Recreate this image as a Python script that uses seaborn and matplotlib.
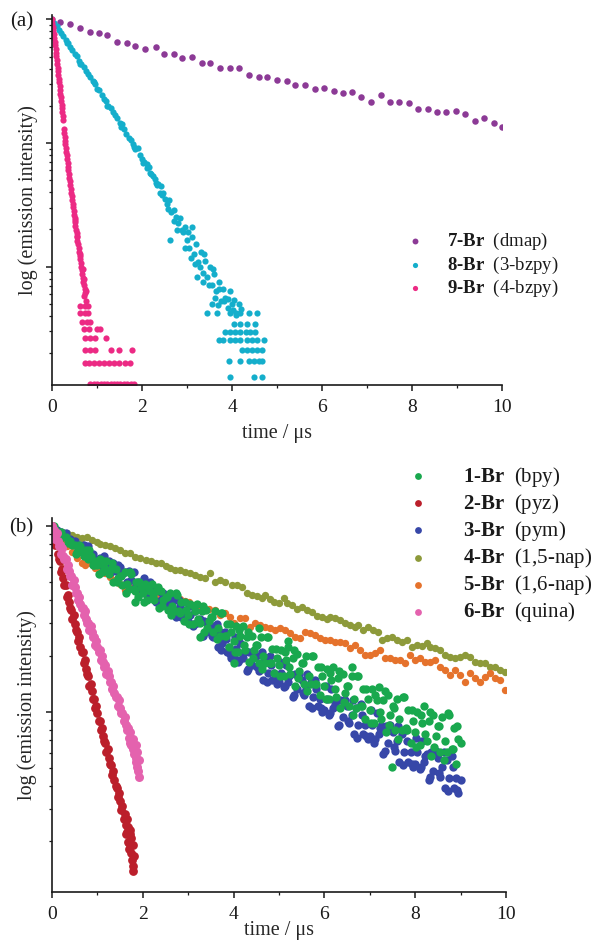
import matplotlib
matplotlib.use("Agg")
import matplotlib.pyplot as plt
import numpy as np
import pandas as pd
import seaborn as sns
from matplotlib.ticker import LogLocator, MultipleLocator, NullFormatter

# decay traces: time in us, "dec" = decades below the starting intensity

# ---------------- panel (a) ----------------
t_7br = [0.18, 0.41, 0.63, 0.85, 1.04, 1.22, 1.44, 1.67, 1.85, 2.07,
         2.30, 2.48, 2.70, 2.89, 3.11, 3.33, 3.52, 3.74, 3.96, 4.15,
         4.37, 4.59, 4.78, 5.00, 5.22, 5.41, 5.63, 5.84, 6.05, 6.26,
         6.47, 6.67, 6.87, 7.09, 7.30, 7.50, 7.72, 7.93, 8.13, 8.35,
         8.55, 8.76, 8.98, 9.18, 9.39, 9.61, 9.82, 10.0]
dec_7br = [0.019, 0.038, 0.073, 0.105, 0.113, 0.127, 0.186, 0.194, 0.213, 0.243,
           0.226, 0.283, 0.283, 0.310, 0.307, 0.350, 0.350, 0.391, 0.396, 0.396,
           0.450, 0.464, 0.464, 0.490, 0.496, 0.531, 0.531, 0.563, 0.558, 0.577,
           0.593, 0.585, 0.626, 0.666, 0.612, 0.666, 0.666, 0.679, 0.725, 0.725,
           0.747, 0.747, 0.742, 0.766, 0.820, 0.800, 0.841, 0.868]

t_8br_main = [0.00, 0.05, 0.10, 0.15, 0.20, 0.25, 0.30, 0.35, 0.40, 0.45,
              0.50, 0.55, 0.60, 0.65, 0.70, 0.75, 0.80, 0.85, 0.90, 0.95,
              1.00, 1.05, 1.10, 1.15, 1.20, 1.25, 1.30, 1.35, 1.40, 1.45,
              1.50, 1.55, 1.60, 1.65, 1.70, 1.75, 1.80, 1.85, 1.90, 1.95,
              2.00, 2.05, 2.10, 2.15, 2.20, 2.25, 2.30, 2.35, 2.40, 2.45,
              2.50, 2.55, 2.60, 2.65, 2.70, 2.75, 2.80, 2.85, 2.90, 2.95,
              3.00, 3.05, 3.10, 3.15, 3.20, 3.25, 3.30, 3.35, 3.40, 3.45,
              3.50, 3.55, 3.60, 3.65, 3.70, 3.75, 3.80, 3.85, 3.90, 3.95,
              4.00, 4.05, 4.10]
dec_8br_main = [0.000, 0.030, 0.050, 0.085, 0.110, 0.135, 0.165, 0.190, 0.220, 0.245,
                0.280, 0.300, 0.335, 0.360, 0.385, 0.420, 0.440, 0.470, 0.495, 0.525,
                0.560, 0.575, 0.610, 0.640, 0.660, 0.700, 0.715, 0.750, 0.775, 0.800,
                0.840, 0.850, 0.890, 0.930, 0.960, 0.975, 1.010, 1.050, 1.040, 1.100,
                1.130, 1.150, 1.200, 1.190, 1.250, 1.270, 1.320, 1.330, 1.400, 1.420,
                1.450, 1.490, 1.460, 1.560, 1.540, 1.600, 1.650, 1.610, 1.720, 1.680,
                1.780, 1.850, 1.760, 1.900, 1.820, 1.960, 1.880, 2.050, 1.950, 2.080,
                2.000, 2.150, 2.060, 2.200, 2.120, 2.280, 2.180, 2.250, 2.330, 2.200,
                2.300, 2.270, 2.390]
t_8br_extra = [2.12, 2.28, 2.42, 2.58, 2.72, 2.88, 3.02, 3.08, 3.18, 3.28,
               3.38, 3.48, 3.58, 3.62, 3.72, 3.82, 3.92, 4.02, 4.15, 4.20,
               3.22, 2.95, 3.55, 2.78, 3.12, 2.63, 3.35, 3.68,
               0.325, 0.625, 0.925, 1.225, 1.525, 1.825, 2.025, 2.175, 2.325, 2.475]
dec_8br_extra = [1.17, 1.29, 1.35, 1.53, 1.63, 1.70, 1.72, 1.93, 1.98, 2.00,
                 1.90, 2.15, 2.02, 2.25, 2.18, 2.28, 2.26, 2.35, 2.30, 2.34,
                 2.08, 1.85, 2.30, 1.70, 1.68, 1.78, 2.12, 2.31,
                 0.19, 0.36, 0.51, 0.70, 0.87, 1.03, 1.16, 1.24, 1.34, 1.40]
# low-count tail sits on a few discrete levels
t_8br_tail = [3.44, 3.67, 3.96, 4.10, 4.18, 4.37, 4.56,
              4.04, 4.18, 4.33, 4.52,
              3.85, 3.96, 4.07, 4.18, 4.30, 4.41, 4.52,
              3.70, 3.81, 3.96, 4.07, 4.18, 4.33, 4.44, 4.56, 4.70,
              4.22, 4.33, 4.44, 4.56, 4.67,
              3.93, 4.18, 4.37, 4.48, 4.59, 4.67,
              3.96, 4.48, 4.67]
dec_8br_tail = [2.37, 2.37, 2.37, 2.37, 2.37, 2.37, 2.37,
                2.46, 2.46, 2.46, 2.46,
                2.53, 2.53, 2.53, 2.53, 2.53, 2.53, 2.53,
                2.59, 2.59, 2.59, 2.59, 2.59, 2.59, 2.59, 2.59, 2.59,
                2.67, 2.67, 2.67, 2.67, 2.67,
                2.76, 2.76, 2.76, 2.76, 2.76, 2.76,
                2.89, 2.89, 2.89]

t_9br_main = [0.000, 0.010, 0.020, 0.028, 0.040, 0.048, 0.060, 0.066, 0.078, 0.085,
              0.095, 0.106, 0.112, 0.124, 0.130, 0.142, 0.150, 0.158, 0.170, 0.176,
              0.188, 0.195, 0.204, 0.212, 0.222, 0.228, 0.240, 0.246,
              0.262, 0.272, 0.280, 0.290, 0.296, 0.308, 0.315, 0.326, 0.332, 0.345,
              0.352, 0.364, 0.372, 0.384, 0.392, 0.404, 0.412, 0.425, 0.436, 0.446,
              0.458, 0.468, 0.478, 0.492, 0.500, 0.515, 0.522, 0.538, 0.545, 0.560,
              0.565, 0.582, 0.590, 0.604, 0.612, 0.628, 0.636, 0.650, 0.662, 0.672,
              0.690, 0.698, 0.716, 0.730, 0.742,
              0.520, 0.545, 0.630, 0.680, 0.720, 0.760, 0.720, 0.760]
dec_9br_main = [0.00, 0.03, 0.06, 0.09, 0.12, 0.15, 0.18, 0.21, 0.24, 0.27,
                0.30, 0.33, 0.36, 0.39, 0.42, 0.45, 0.48, 0.51, 0.54, 0.57,
                0.60, 0.63, 0.66, 0.69, 0.72, 0.75, 0.78, 0.81,
                0.89, 0.92, 0.95, 0.98, 1.01, 1.04, 1.07, 1.10, 1.13, 1.16,
                1.19, 1.22, 1.25, 1.28, 1.31, 1.34, 1.37, 1.40, 1.43, 1.46,
                1.49, 1.52, 1.55, 1.58, 1.61, 1.64, 1.67, 1.70, 1.73, 1.76,
                1.79, 1.82, 1.85, 1.88, 1.91, 1.94, 1.97, 2.00, 2.03, 2.06,
                2.09, 2.12, 2.15, 2.18, 2.21,
                1.62, 1.75, 1.90, 2.02, 2.10, 2.20, 2.24, 2.28]
t_9br_tail = [0.63, 0.74, 0.81,
              0.63, 0.74, 0.81,
              0.67, 0.78, 0.85,
              0.70, 0.82, 1.00, 1.07,
              0.74, 0.85, 0.96, 1.19,
              0.74, 0.85, 0.96, 1.30, 1.48, 1.78,
              0.74, 0.82, 0.93, 1.04, 1.15, 1.26, 1.37, 1.48, 1.63, 1.74,
              0.85, 0.93, 1.00, 1.08, 1.15, 1.22, 1.30, 1.37, 1.45, 1.52, 1.60, 1.67, 1.75, 1.82]
dec_9br_tail = [2.315, 2.315, 2.315,
                2.37, 2.37, 2.37,
                2.445, 2.445, 2.445,
                2.50, 2.50, 2.50, 2.50,
                2.58, 2.58, 2.58, 2.58,
                2.67, 2.67, 2.67, 2.67, 2.67, 2.67,
                2.78, 2.78, 2.78, 2.78, 2.78, 2.78, 2.78, 2.78, 2.78, 2.78,
                2.948, 2.948, 2.948, 2.948, 2.948, 2.948, 2.948, 2.948, 2.948, 2.948, 2.948, 2.948, 2.948, 2.948]

# ---------------- panel (b) ----------------
t_step = [0.00, 0.05, 0.10, 0.15, 0.20, 0.25, 0.30, 0.35, 0.40, 0.45,
          0.50, 0.55, 0.60, 0.65, 0.70, 0.75, 0.80, 0.85, 0.90, 0.95,
          1.00, 1.05, 1.10, 1.15, 1.20, 1.25, 1.30, 1.35, 1.40, 1.45,
          1.50, 1.55, 1.60, 1.65, 1.70, 1.75, 1.80, 1.85, 1.90, 1.95,
          2.00, 2.05, 2.10, 2.15, 2.20, 2.25, 2.30, 2.35, 2.40, 2.45,
          2.50, 2.55, 2.60, 2.65, 2.70, 2.75, 2.80, 2.85, 2.90, 2.95,
          3.00, 3.05, 3.10, 3.15, 3.20, 3.25, 3.30, 3.35, 3.40, 3.45,
          3.50, 3.55, 3.60, 3.65, 3.70, 3.75, 3.80, 3.85, 3.90, 3.95,
          4.00, 4.05, 4.10, 4.15, 4.20, 4.25, 4.30, 4.35, 4.40, 4.45,
          4.50, 4.55, 4.60, 4.65, 4.70, 4.75, 4.80, 4.85, 4.90, 4.95,
          5.00, 5.05, 5.10, 5.15, 5.20, 5.25, 5.30, 5.35, 5.40, 5.45,
          5.50, 5.55, 5.60, 5.65, 5.70, 5.75, 5.80, 5.85, 5.90, 5.95,
          6.00, 6.05, 6.10, 6.15, 6.20, 6.25, 6.30, 6.35, 6.40, 6.45,
          6.50, 6.55, 6.60, 6.65, 6.70, 6.75, 6.80, 6.85, 6.90, 6.95,
          7.00, 7.05, 7.10, 7.15, 7.20, 7.25, 7.30, 7.35, 7.40, 7.45,
          7.50, 7.55, 7.60, 7.65, 7.70, 7.75, 7.80, 7.85, 7.90, 7.95,
          8.00, 8.05, 8.10, 8.15, 8.20, 8.25, 8.30, 8.35, 8.40, 8.45,
          8.50, 8.55, 8.60, 8.65, 8.70, 8.75, 8.80, 8.85, 8.90, 8.95,
          9.00]
t_half = [2.025, 2.125, 2.225, 2.325, 2.425, 2.525, 2.625, 2.725, 2.825, 2.925,
          3.025, 3.125, 3.225, 3.325, 3.425, 3.525, 3.625, 3.725, 3.825, 3.925,
          4.025, 4.125, 4.225, 4.325, 4.425, 4.525, 4.625, 4.725, 4.825, 4.925,
          5.025, 5.125, 5.225, 5.325, 5.425, 5.525, 5.625, 5.725, 5.825, 5.925,
          6.025, 6.125, 6.225, 6.325, 6.425, 6.525, 6.625, 6.725, 6.825, 6.925,
          7.025, 7.125, 7.225, 7.325, 7.425, 7.525, 7.625, 7.725, 7.825, 7.925,
          8.025, 8.125, 8.225, 8.325, 8.425, 8.525, 8.625, 8.725, 8.825, 8.925]

dec_1br_main = [0.00, 0.00, 0.03, 0.03, 0.03, 0.06, 0.06, 0.09, 0.08, 0.10,
                0.10, 0.14, 0.10, 0.14, 0.16, 0.13, 0.18, 0.16, 0.21, 0.19,
                0.21, 0.18, 0.25, 0.22, 0.19, 0.26, 0.23, 0.30, 0.23, 0.28,
                0.27, 0.32, 0.25, 0.31, 0.34, 0.26, 0.34, 0.30, 0.38, 0.33,
                0.36, 0.31, 0.40, 0.35, 0.31, 0.40, 0.35, 0.44, 0.35, 0.40,
                0.38, 0.45, 0.36, 0.43, 0.46, 0.37, 0.46, 0.41, 0.51, 0.45,
                0.48, 0.42, 0.53, 0.46, 0.42, 0.52, 0.46, 0.57, 0.45, 0.51,
                0.49, 0.57, 0.46, 0.55, 0.59, 0.47, 0.59, 0.53, 0.65, 0.57,
                0.62, 0.54, 0.68, 0.59, 0.54, 0.67, 0.60, 0.73, 0.59, 0.67,
                0.64, 0.74, 0.60, 0.70, 0.74, 0.60, 0.74, 0.66, 0.79, 0.71,
                0.75, 0.67, 0.81, 0.72, 0.65, 0.80, 0.71, 0.86, 0.69, 0.78,
                0.74, 0.85, 0.70, 0.81, 0.85, 0.70, 0.85, 0.76, 0.91, 0.81,
                0.86, 0.77, 0.93, 0.83, 0.76, 0.92, 0.82, 0.98, 0.80, 0.90,
                0.86, 0.97, 0.81, 0.93, 0.98, 0.81, 0.97, 0.88, 1.04, 0.93,
                0.99, 0.88, 1.06, 0.94, 0.87, 1.04, 0.94, 1.11, 0.91, 1.02,
                0.97, 1.10, 0.93, 1.04, 1.10, 0.92, 1.09, 0.99, 1.17, 1.05,
                1.11, 1.00, 1.18, 1.06, 0.97, 1.16, 1.05, 1.24, 1.02, 1.13,
                1.08, 1.22, 1.03, 1.16, 1.22, 1.02, 1.20, 1.09, 1.28, 1.15,
                1.17]
dec_1br_half = [0.41, 0.33, 0.38, 0.33, 0.43, 0.38, 0.48, 0.36, 0.47, 0.41,
                0.53, 0.43, 0.50, 0.43, 0.55, 0.49, 0.61, 0.47, 0.59, 0.53,
                0.68, 0.56, 0.64, 0.57, 0.71, 0.64, 0.77, 0.60, 0.74, 0.66,
                0.81, 0.68, 0.76, 0.67, 0.82, 0.74, 0.89, 0.70, 0.85, 0.76,
                0.93, 0.79, 0.88, 0.78, 0.95, 0.86, 1.02, 0.81, 0.97, 0.88,
                1.06, 0.91, 1.00, 0.89, 1.07, 0.98, 1.15, 0.92, 1.10, 0.99,
                1.19, 1.02, 1.12, 1.00, 1.19, 1.08, 1.26, 1.01, 1.20, 1.08]
t_1br_early = [0.525, 0.625, 0.725, 0.825, 0.925, 1.025, 1.125, 1.225, 1.325, 1.425,
               1.525, 1.625, 1.725, 1.825, 1.925, 1.83, 3.27, 4.00, 7.49, 4.55, 5.20, 6.60]
dec_1br_early = [0.15, 0.11, 0.16, 0.13, 0.21, 0.26, 0.19, 0.25, 0.20, 0.30,
                 0.27, 0.36, 0.25, 0.35, 0.30, 0.41, 0.60, 0.74, 1.30, 0.55, 0.62, 0.76]

dec_3br_main = [0.00, 0.01, 0.02, 0.04, 0.03, 0.05, 0.04, 0.07, 0.07, 0.09,
                0.08, 0.11, 0.10, 0.14, 0.10, 0.14, 0.11, 0.16, 0.15, 0.18,
                0.19, 0.17, 0.21, 0.16, 0.20, 0.19, 0.25, 0.20, 0.24, 0.21,
                0.22, 0.26, 0.25, 0.30, 0.24, 0.29, 0.25, 0.32, 0.30, 0.34,
                0.34, 0.32, 0.37, 0.30, 0.36, 0.34, 0.41, 0.35, 0.40, 0.36,
                0.38, 0.43, 0.41, 0.47, 0.40, 0.45, 0.40, 0.49, 0.46, 0.51,
                0.51, 0.48, 0.54, 0.46, 0.52, 0.50, 0.59, 0.51, 0.57, 0.52,
                0.54, 0.60, 0.58, 0.65, 0.57, 0.63, 0.57, 0.68, 0.65, 0.71,
                0.71, 0.66, 0.73, 0.63, 0.71, 0.68, 0.78, 0.68, 0.75, 0.68,
                0.70, 0.78, 0.74, 0.83, 0.71, 0.79, 0.70, 0.83, 0.79, 0.85,
                0.84, 0.79, 0.87, 0.75, 0.84, 0.80, 0.92, 0.80, 0.88, 0.80,
                0.83, 0.91, 0.88, 0.97, 0.84, 0.92, 0.83, 0.97, 0.93, 1.00,
                0.99, 0.93, 1.02, 0.88, 0.98, 0.94, 1.08, 0.94, 1.03, 0.94,
                0.97, 1.06, 1.02, 1.12, 0.98, 1.07, 0.96, 1.12, 1.07, 1.15,
                1.13, 1.07, 1.17, 1.01, 1.12, 1.08, 1.23, 1.08, 1.17, 1.07,
                1.11, 1.21, 1.16, 1.27, 1.12, 1.22, 1.10, 1.27, 1.22, 1.30,
                1.28, 1.22, 1.31, 1.16, 1.27, 1.23, 1.37, 1.22, 1.32, 1.21,
                1.25, 1.35, 1.30, 1.41, 1.26, 1.36, 1.24, 1.41, 1.36, 1.44,
                1.37]
dec_3br_half = [0.28, 0.37, 0.35, 0.41, 0.36, 0.42, 0.37, 0.49, 0.43, 0.50,
                0.43, 0.53, 0.51, 0.59, 0.52, 0.59, 0.53, 0.67, 0.61, 0.69,
                0.60, 0.72, 0.68, 0.77, 0.68, 0.76, 0.68, 0.84, 0.75, 0.83,
                0.73, 0.86, 0.81, 0.91, 0.81, 0.90, 0.80, 0.98, 0.88, 0.98,
                0.86, 1.01, 0.96, 1.07, 0.95, 1.05, 0.94, 1.14, 1.02, 1.13,
                0.99, 1.15, 1.09, 1.21, 1.09, 1.19, 1.08, 1.29, 1.16, 1.28,
                1.14, 1.30, 1.24, 1.35, 1.23, 1.33, 1.22, 1.43, 1.30, 1.42]

t_fast = [0.000, 0.025, 0.050, 0.075, 0.100, 0.125, 0.150, 0.175, 0.200, 0.225,
          0.250, 0.275, 0.300, 0.325, 0.350, 0.375, 0.400, 0.425, 0.450, 0.475,
          0.500, 0.525, 0.550, 0.575, 0.600, 0.625, 0.650, 0.675, 0.700, 0.725,
          0.750, 0.775, 0.800, 0.825, 0.850, 0.875, 0.900, 0.925, 0.950, 0.975,
          1.000, 1.025, 1.050, 1.075, 1.100, 1.125, 1.150, 1.175, 1.200, 1.225,
          1.250, 1.275, 1.300, 1.325, 1.350, 1.375, 1.400, 1.425, 1.450, 1.475,
          1.500, 1.525, 1.550, 1.575, 1.600, 1.625, 1.650, 1.675, 1.700, 1.725,
          1.750, 1.775, 1.800, 1.825, 1.850, 1.875, 1.900]

t_2br_end = [1.78, 1.76, 1.72, 1.68, 1.74, 1.80, 1.66, 1.62, 1.70, 1.79]
dec_2br = [0.00, 0.04, 0.05, 0.10, 0.09, 0.15, 0.18, 0.19, 0.25, 0.23,
           0.28, 0.32, 0.32, 0.38, 0.37, 0.41, 0.44, 0.45, 0.50, 0.48,
           0.53, 0.56, 0.57, 0.62, 0.60, 0.65, 0.68, 0.68, 0.74, 0.72,
           0.77, 0.80, 0.81, 0.86, 0.85, 0.89, 0.93, 0.93, 0.98, 0.97,
           1.01, 1.05, 1.05, 1.10, 1.09, 1.13, 1.16, 1.17, 1.22, 1.20,
           1.25, 1.28, 1.29, 1.34, 1.32, 1.37, 1.40, 1.41, 1.46, 1.44,
           1.48, 1.53, 1.51, 1.58, 1.55, 1.61, 1.65, 1.62, 1.71, 1.66,
           1.76, 1.72]
dec_2br_end = [1.83, 1.80, 1.64, 1.70, 1.68, 1.78, 1.58, 1.66, 1.74, 1.86]

t_6br_end = [1.88, 1.86, 1.91, 1.84, 1.78, 1.72, 1.92]
dec_6br = [0.00, 0.03, 0.02, 0.07, 0.04, 0.08, 0.11, 0.10, 0.15, 0.12,
           0.16, 0.18, 0.18, 0.23, 0.21, 0.24, 0.27, 0.27, 0.32, 0.29,
           0.33, 0.36, 0.36, 0.40, 0.38, 0.42, 0.44, 0.44, 0.48, 0.46,
           0.50, 0.52, 0.52, 0.56, 0.54, 0.57, 0.60, 0.60, 0.64, 0.62,
           0.65, 0.68, 0.67, 0.72, 0.70, 0.73, 0.76, 0.75, 0.80, 0.78,
           0.81, 0.84, 0.84, 0.88, 0.86, 0.90, 0.92, 0.92, 0.97, 0.94,
           0.98, 1.01, 1.01, 1.05, 1.03, 1.07, 1.10, 1.09, 1.14, 1.11,
           1.18, 1.15, 1.23, 1.18, 1.27, 1.22, 1.32]
dec_6br_end = [1.30, 1.18, 1.26, 1.25, 1.20, 1.17, 1.35]

t_4br = [0.00, 0.11, 0.22, 0.33, 0.44, 0.55, 0.66, 0.77, 0.88, 0.99,
         1.06, 1.17, 1.28, 1.39, 1.50, 1.61, 1.72, 1.83, 1.94, 2.06,
         2.17, 2.28, 2.39, 2.50, 2.61, 2.72, 2.83, 2.94, 3.05, 3.16,
         3.27, 3.38, 3.49, 3.60, 3.71, 3.82,
         3.96, 4.07, 4.18, 4.29, 4.40, 4.51, 4.62, 4.70, 4.80, 4.90,
         4.99, 5.10, 5.18, 5.29, 5.40, 5.51, 5.62, 5.73, 5.84, 5.95,
         6.06, 6.13, 6.24, 6.35, 6.46, 6.57, 6.68, 6.75, 6.86, 6.97,
         7.08, 7.19, 7.27, 7.38, 7.49, 7.60, 7.71, 7.82, 7.93, 8.04,
         8.15, 8.26, 8.33, 8.44, 8.55, 8.66, 8.77, 8.88, 8.99, 9.10,
         9.21, 9.32, 9.43, 9.54, 9.65, 9.76, 9.87, 9.98]
dec_4br = [0.004, 0.022, 0.031, 0.040, 0.049, 0.058, 0.067, 0.062, 0.076, 0.085,
           0.098, 0.102, 0.106, 0.120, 0.129, 0.145, 0.147, 0.165, 0.174, 0.183,
           0.190, 0.201, 0.201, 0.215, 0.228, 0.237, 0.237, 0.246, 0.255, 0.264,
           0.273, 0.282, 0.255, 0.300, 0.291, 0.300,
           0.318, 0.318, 0.327, 0.363, 0.372, 0.377, 0.389, 0.372, 0.395, 0.407,
           0.413, 0.389, 0.416, 0.425, 0.449, 0.434, 0.452, 0.461, 0.485, 0.492,
           0.502, 0.488, 0.497, 0.506, 0.524, 0.533, 0.542, 0.533, 0.560, 0.542,
           0.560, 0.569, 0.614, 0.605, 0.596, 0.614, 0.623, 0.614, 0.650, 0.641,
           0.646, 0.632, 0.650, 0.659, 0.668, 0.695, 0.704, 0.712, 0.704, 0.695,
           0.704, 0.730, 0.739, 0.739, 0.757, 0.757, 0.775, 0.784]

t_5br = [0.00, 0.11, 0.22, 0.33, 0.44, 0.55, 0.66, 0.73, 0.84, 0.95,
         1.06, 1.17, 1.28, 1.39, 1.50, 1.61, 1.72, 1.83, 1.94, 2.05,
         2.16, 2.27, 2.38, 2.49, 2.60, 2.71, 2.82, 2.93, 3.01, 3.12,
         3.23, 3.34, 3.45, 3.60, 3.71, 3.82, 3.93,
         4.00, 4.15, 4.26, 4.37, 4.48, 4.59, 4.70, 4.81, 4.92, 5.03,
         5.14, 5.25, 5.36, 5.47, 5.58, 5.69, 5.80, 5.91, 6.02, 6.13,
         6.24, 6.35, 6.46, 6.57, 6.68, 6.79, 6.90, 7.01, 7.12, 7.23,
         7.34, 7.45, 7.56, 7.67, 7.78, 7.89, 8.00, 8.11, 8.22, 8.33,
         8.44, 8.55, 8.66, 8.77, 8.88, 8.99, 9.10, 9.21, 9.32, 9.43,
         9.54, 9.65, 9.76, 9.87, 9.98]
dec_5br = [0.000, 0.040, 0.075, 0.110, 0.140, 0.170, 0.200, 0.210, 0.200, 0.225,
           0.240, 0.255, 0.275, 0.290, 0.310, 0.345, 0.330, 0.345, 0.350, 0.360,
           0.365, 0.370, 0.380, 0.385, 0.390, 0.400, 0.395, 0.405, 0.408, 0.426,
           0.430, 0.440, 0.445, 0.453, 0.480, 0.470, 0.490,
           0.524, 0.497, 0.497, 0.542, 0.524, 0.533, 0.542, 0.551, 0.560, 0.551,
           0.560, 0.578, 0.596, 0.605, 0.569, 0.578, 0.587, 0.605, 0.614, 0.614,
           0.623, 0.623, 0.632, 0.659, 0.641, 0.668, 0.695, 0.695, 0.686, 0.668,
           0.713, 0.713, 0.722, 0.722, 0.739, 0.695, 0.722, 0.713, 0.730, 0.730,
           0.722, 0.757, 0.775, 0.802, 0.775, 0.802, 0.838, 0.793, 0.820, 0.838,
           0.811, 0.793, 0.820, 0.829, 0.883]

compounds_a = ["7", "8", "9"]
ligands_a = ["dmap", "3-bzpy", "4-bzpy"]
colors_a = ["#8c3a96", "#14aecb", "#ec2a84"]

compounds_b = ["1", "2", "3", "4", "5", "6"]
ligands_b = ["bpy", "pyz", "pym", "1,5-nap", "1,6-nap", "quina"]
colors_b = ["#19a84e", "#bb1f2b", "#3747a8", "#8d9a3a", "#e5722c", "#e462ae"]


def trace(t, dec):
    return pd.DataFrame({"time": np.asarray(t, dtype=float),
                         "intensity": 10.0 ** -np.asarray(dec, dtype=float)})


def label(num, lig):
    return "$\\mathbf{%s\u2010Br}$  (%s)" % (num, lig)


sns.set_theme(style="ticks")
plt.rcParams["font.family"] = ["Liberation Serif", "DejaVu Serif"]
plt.rcParams["mathtext.fontset"] = "custom"
plt.rcParams["mathtext.rm"] = "Liberation Serif"
plt.rcParams["mathtext.bf"] = "Liberation Serif:bold"
plt.rcParams["mathtext.it"] = "Liberation Serif:italic"
plt.rcParams["text.color"] = "#1a1a1a"

W, H = 594, 941
fig = plt.figure(figsize=(W / 100, H / 100), dpi=100)
ax_a = fig.add_axes([52 / W, 1 - 385 / H, 450 / W, 370 / H])
ax_b = fig.add_axes([52 / W, 1 - 891.7 / H, 454 / W, 373.7 / H])


def style_axes(ax, ylim):
    ax.set_yscale("log")
    ax.set_xlim(0, 10)
    ax.set_ylim(*ylim)
    ax.xaxis.set_major_locator(MultipleLocator(2))
    ax.xaxis.set_minor_locator(MultipleLocator(1))
    ax.yaxis.set_major_locator(LogLocator(base=10, numticks=10))
    ax.yaxis.set_minor_locator(LogLocator(base=10, subs=np.arange(2, 10), numticks=20))
    ax.yaxis.set_major_formatter(NullFormatter())
    ax.yaxis.set_minor_formatter(NullFormatter())
    ax.tick_params(which="major", direction="out", length=4, width=1.1, pad=6,
                   labelsize=14, color="#1a1a1a", labelcolor="#1a1a1a")
    ax.tick_params(which="minor", direction="out", length=2.3, width=0.9, color="#1a1a1a")
    sns.despine(ax=ax)
    for side in ("left", "bottom"):
        ax.spines[side].set_linewidth(1.2)
        ax.spines[side].set_color("#1a1a1a")


def draw(ax, t, d, col, size):
    sns.scatterplot(data=trace(t, d), x="time", y="intensity", color=col,
                    linewidth=0, ax=ax, legend=False)
    coll = ax.collections[-1]
    coll.set_sizes([size])
    return coll


# panel (a)
series_a = [(t_7br, dec_7br, 22),
            (t_8br_main + t_8br_extra + t_8br_tail, dec_8br_main + dec_8br_extra + dec_8br_tail, 20),
            (t_9br_main + t_9br_tail, dec_9br_main + dec_9br_tail, 20)]
handles_a = [draw(ax_a, t, d, col, s) for (t, d, s), col in zip(series_a, colors_a)]
style_axes(ax_a, (10 ** -2.956, 10 ** 0.035))
ax_a.set_xlabel("time / \u03bcs", fontsize=14.5, labelpad=5.5)
ax_a.set_ylabel("log (emission intensity)", fontsize=14.5)
ax_a.yaxis.set_label_coords(-0.031, 0.5)
leg_a = ax_a.legend(handles_a, [label(n, l) for n, l in zip(compounds_a, ligands_a)],
                    loc="upper left", bbox_to_anchor=(405.6 / W, 1 - 231 / H),
                    bbox_transform=fig.transFigure, frameon=False, fontsize=13.5,
                    handlelength=1.0, handletextpad=1.2, labelspacing=0.13,
                    borderpad=0, borderaxespad=0, scatterpoints=1)
for h, s in zip(leg_a.legend_handles, [18, 14, 14]):
    h.set_sizes([s])

# panel (b): drawn olive, orange, blue, green, red, pink so green sits on top
series_b = {"1": (t_step + t_half + t_1br_early, dec_1br_main + dec_1br_half + dec_1br_early),
            "2": (t_fast[:72] + t_2br_end, dec_2br + dec_2br_end),
            "3": (t_step + t_half, dec_3br_main + dec_3br_half),
            "4": (t_4br, dec_4br),
            "5": (t_5br, dec_5br),
            "6": (t_fast + t_6br_end, dec_6br + dec_6br_end)}
sizes_b = {"1": 36, "2": 40, "3": 36, "4": 28, "5": 28, "6": 42}
handles_b = {}
for key in ["4", "5", "3", "1", "2", "6"]:
    t, d = series_b[key]
    handles_b[key] = draw(ax_b, t, d, colors_b[compounds_b.index(key)], sizes_b[key])
style_axes(ax_b, (10 ** -1.97, 10 ** 0.043))
ax_b.set_xlabel("time / \u03bcs", fontsize=14.5, labelpad=-1.5)
ax_b.set_ylabel("log (emission intensity)", fontsize=14.5)
ax_b.yaxis.set_label_coords(-0.033, 0.5)
leg_b = ax_b.legend([handles_b[k] for k in compounds_b],
                    [label(n, l) for n, l in zip(compounds_b, ligands_b)],
                    loc="upper left", bbox_to_anchor=(407.6 / W, 1 - 464.7 / H),
                    bbox_transform=fig.transFigure, frameon=False, fontsize=15,
                    handlelength=1.0, handletextpad=1.66, labelspacing=0.15,
                    borderpad=0, borderaxespad=0, scatterpoints=1)
for h in leg_b.legend_handles:
    h.set_sizes([24])

fig.text(33 / W, 1 - 21.7 / H, "(a)", ha="right", va="center", fontsize=15)
fig.text(33 / W, 1 - 528 / H, "(b)", ha="right", va="center", fontsize=15)

fig.savefig("out.png", dpi=100)
